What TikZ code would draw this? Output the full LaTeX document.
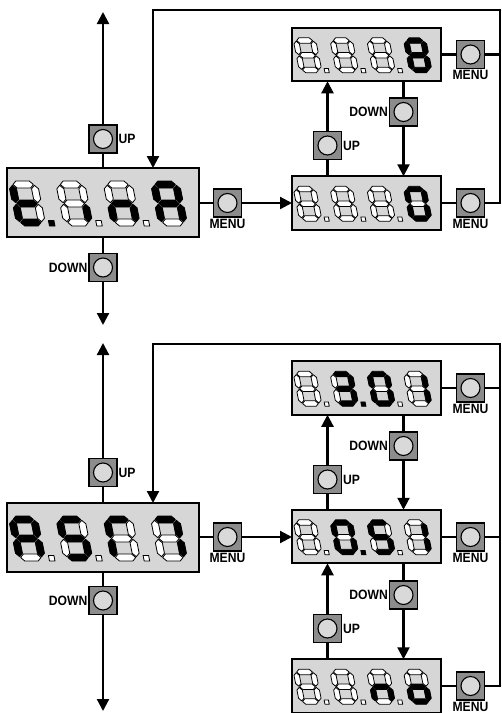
\documentclass[tikz,border=0pt]{standalone}
\usepackage{fontspec}
\newfontfamily\lblfont{Liberation Sans}[FakeStretch=0.9]
\usetikzlibrary{arrows.meta}
\definecolor{dispfill}{HTML}{D6D6D6}
\definecolor{btnfill}{HTML}{8C8C8C}
\definecolor{btnlight}{HTML}{D9D9D9}
\makeatletter
\newcommand\segfillset[2]{\in@{#1}{#2}\ifin@\def\segcolor{black}\else\def\segcolor{white}\fi}
\makeatother
\newcommand\hseg[3]{\segfillset{#1}{#2}\filldraw[segline, fill=\segcolor] (4.3,#3) -- ++(3.5,3.5) -- ++(13.4,0) -- ++(3.5,-3.5) -- ++(-3.5,-3.5) -- ++(-13.4,0) -- cycle;}
\newcommand\vseg[4]{\segfillset{#1}{#2}\filldraw[segline, fill=\segcolor] (#3,#4) -- ++(3.5,3.5) -- ++(0,10.4) -- ++(-3.5,3.5) -- ++(-3.5,-3.5) -- ++(0,-10.4) -- cycle;}
\newcommand\sevdigit[4]{%
\begin{scope}[shift={(#1,58)},yscale=-1,xslant=0.2]
\hseg{a}{#2}{41.5}\hseg{g}{#2}{22.5}\hseg{d}{#2}{3.5}
\vseg{f}{#2}{3.5}{23.3}\vseg{e}{#2}{3.5}{4.3}\vseg{b}{#2}{25.5}{23.3}\vseg{c}{#2}{25.5}{4.3}
\ifnum#4<4 \segfillset{#4}{#3}\filldraw[segline, fill=\segcolor] (32.5,0) rectangle ++(5.5,5.5);\fi
\end{scope}}
\newcommand\readout[7]{%
\begin{scope}[shift={(#1.north west)},scale=#2]
\sevdigit{10}{#3}{#7}{1}\sevdigit{57.3}{#4}{#7}{2}\sevdigit{104.7}{#5}{#7}{3}\sevdigit{152}{#6}{#7}{4}
\end{scope}}
\tikzset{
 disp/.style={draw, line width=2.4pt, fill=dispfill, inner sep=0pt, outer sep=0pt},
 bigdisp/.style={disp, minimum width=192pt, minimum height=69pt},
 smalldisp/.style={disp, minimum width=149pt, minimum height=53.5pt},
 btn/.style={draw, line width=1.2pt, fill=btnfill, minimum size=28pt, inner sep=0pt, outer sep=0pt,
   path picture={\filldraw[fill=btnlight, line width=1.1pt] (path picture bounding box.center) circle[radius=9.5pt];}},
 conn/.style={line width=2.2pt},
 arr/.style={conn, -{Triangle[length=12pt,width=12pt]}},
 lbl/.style={font=\lblfont\bfseries\fontsize{13.5}{13.5}\selectfont, inner sep=0pt},
 segline/.style={line width=0.8pt, line join=round},
}
\begin{document}
\begin{tikzpicture}[x=1pt,y=-1pt]
\useasboundingbox (0,0) rectangle (502,713);
\fill[white] (0,0) rectangle (502,713);
% ---------- top half ----------
\node[bigdisp] (m1) at (103,202.5) {};
\node[smalldisp] (r1) at (366.5,54.5) {};
\node[smalldisp] (r2) at (366.5,203) {};
\node[btn] (up1) at (103,139) {};
\node[btn] (dn1) at (103,267.5) {};
\node[btn] (mn1) at (227.5,203) {};
\node[btn] (mr1) at (470.5,54.5) {};
\node[btn] (mr2) at (470.5,203) {};
\node[btn] (ur1) at (327.5,145.5) {};
\node[btn] (dr1) at (403.5,112) {};
\coordinate (t1) at (103,12);
\coordinate (b1) at (103,325);
\coordinate (lpR1) at (500,10);
\coordinate (lpL1) at (153,10);
\draw[conn] (m1.north) -- (up1.south);
\draw[arr] (up1.north) -- (t1);
\draw[conn] (m1.south) -- (dn1.north);
\draw[arr] (dn1.south) -- (b1);
\draw[conn] (m1.east |- mn1.west) -- (mn1.west);
\draw[arr] (mn1.east) -- (r2.west |- mn1.east);
\draw[conn] (r1.east |- mr1.west) -- (mr1.west);
\draw[conn] (r2.east |- mr2.west) -- (mr2.west);
\draw[conn] (mr1.east) -- (mr1.east -| lpR1);
\draw[arr] (mr2.east) -| (lpR1) -- (lpL1) -- (lpL1 |- m1.north);
\draw[conn] (r2.north -| ur1) -- (ur1.south);
\draw[arr] (ur1.north) -- (ur1 |- r1.south);
\draw[conn] (r1.south -| dr1) -- (dr1.north);
\draw[arr] (dr1.south) -- (dr1 |- r2.north);
\node[lbl, anchor=west] (lu1) at ([xshift=1.5pt]up1.east) {UP};
\node[lbl, anchor=east] (ld1) at ([xshift=-1.5pt]dn1.west) {DOWN};
\node[lbl, anchor=north] (lm1) at ([yshift=-2pt]mn1.south) {MENU};
\node[lbl, anchor=north] (lmr1) at ([yshift=-2pt]mr1.south) {MENU};
\node[lbl, anchor=north] (lmr2) at ([yshift=-2pt]mr2.south) {MENU};
\node[lbl, anchor=west] (lur1) at ([xshift=1.5pt]ur1.east) {UP};
\node[lbl, anchor=east] (ldr1) at ([xshift=-1.5pt]dr1.west) {DOWN};
\readout{m1}{1}{defg}{c}{ceg}{abcefg}{1}
\readout{r1}{0.776}{}{}{}{abcdefg}{}
\readout{r2}{0.776}{}{}{}{abcdef}{}
% ---------- bottom half ----------
\node[bigdisp] (m2) at (103,537.5) {};
\node[smalldisp] (r3) at (366.5,388) {};
\node[smalldisp] (r4) at (366.5,536.5) {};
\node[smalldisp] (r5) at (366.5,686) {};
\node[btn] (up2) at (103,472.5) {};
\node[btn] (dn2) at (103,600.5) {};
\node[btn] (mn2) at (227.5,537) {};
\node[btn] (mr3) at (470.5,388) {};
\node[btn] (mr4) at (470.5,537) {};
\node[btn] (mr5) at (470.5,686) {};
\node[btn] (ur2) at (327.5,479.5) {};
\node[btn] (dr2) at (403.5,446) {};
\node[btn] (ur3) at (327.5,628.5) {};
\node[btn] (dr3) at (403.5,595) {};
\coordinate (t2) at (103,343);
\coordinate (b2) at (103,711);
\coordinate (lpR2) at (500,344);
\coordinate (lpL2) at (153,344);
\draw[conn] (m2.north) -- (up2.south);
\draw[arr] (up2.north) -- (t2);
\draw[conn] (m2.south) -- (dn2.north);
\draw[arr] (dn2.south) -- (b2);
\draw[conn] (m2.east |- mn2.west) -- (mn2.west);
\draw[arr] (mn2.east) -- (r4.west |- mn2.east);
\draw[conn] (r3.east |- mr3.west) -- (mr3.west);
\draw[conn] (r4.east |- mr4.west) -- (mr4.west);
\draw[conn] (r5.east |- mr5.west) -- (mr5.west);
\draw[conn] (mr3.east) -- (mr3.east -| lpR2);
\draw[conn] (mr4.east) -- (mr4.east -| lpR2);
\draw[arr] (mr5.east) -| (lpR2) -- (lpL2) -- (lpL2 |- m2.north);
\draw[conn] (r4.north -| ur2) -- (ur2.south);
\draw[arr] (ur2.north) -- (ur2 |- r3.south);
\draw[conn] (r3.south -| dr2) -- (dr2.north);
\draw[arr] (dr2.south) -- (dr2 |- r4.north);
\draw[conn] (r5.north -| ur3) -- (ur3.south);
\draw[arr] (ur3.north) -- (ur3 |- r4.south);
\draw[conn] (r4.south -| dr3) -- (dr3.north);
\draw[arr] (dr3.south) -- (dr3 |- r5.north);
\node[lbl, anchor=west] (lu2) at ([xshift=1.5pt]up2.east) {UP};
\node[lbl, anchor=east] (ld2) at ([xshift=-1.5pt]dn2.west) {DOWN};
\node[lbl, anchor=north] (lm2) at ([yshift=-2pt]mn2.south) {MENU};
\node[lbl, anchor=north] (lmr3) at ([yshift=-2pt]mr3.south) {MENU};
\node[lbl, anchor=north] (lmr4) at ([yshift=-2pt]mr4.south) {MENU};
\node[lbl, anchor=north] (lmr5) at ([yshift=-2pt]mr5.south) {MENU};
\node[lbl, anchor=west] (lur2) at ([xshift=1.5pt]ur2.east) {UP};
\node[lbl, anchor=east] (ldr2) at ([xshift=-1.5pt]dr2.west) {DOWN};
\node[lbl, anchor=west] (lur3) at ([xshift=1.5pt]ur3.east) {UP};
\node[lbl, anchor=east] (ldr3) at ([xshift=-1.5pt]dr3.west) {DOWN};
\readout{m2}{1}{abcefg}{acdfg}{aef}{abc}{}
\readout{r3}{0.776}{}{abcdg}{abcdef}{bc}{2}
\readout{r4}{0.776}{}{abcdef}{acdfg}{bc}{2}
\readout{r5}{0.776}{}{}{ceg}{cdeg}{}
\end{tikzpicture}
\end{document}
